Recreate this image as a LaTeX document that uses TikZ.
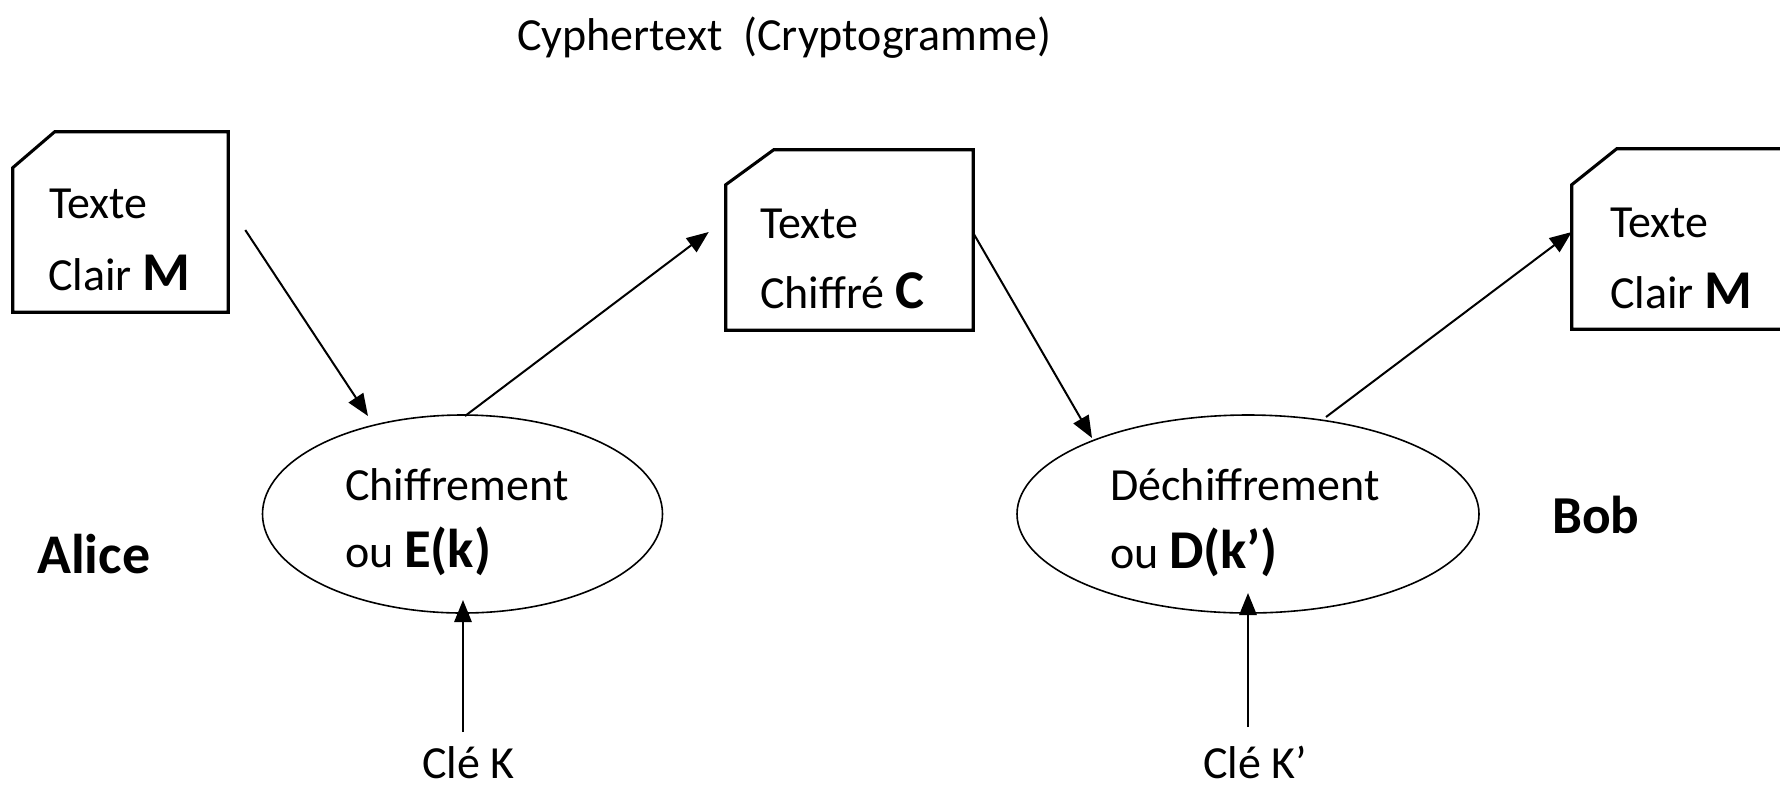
\documentclass[tikz,border=0pt]{standalone}
\usepackage{fontspec}
\setmainfont{Carlito}
\usetikzlibrary{shapes.geometric,arrows.meta,calc}
\newcommand\BigB[1]{{\fontsize{41}{48}\selectfont\bfseries #1}}
\begin{document}
\begin{tikzpicture}[x=0.75pt,y=-0.75pt,
  txt/.style={anchor=base west,inner sep=0pt,font=\fontsize{34.5}{40}\selectfont},
  who/.style={anchor=base west,inner sep=0pt,font=\fontsize{42}{48}\selectfont\bfseries},
  boxnode/.style={rectangle,draw=none,inner sep=0pt,minimum height=135pt},
  boxline/.style={line width=2.3pt,line join=miter},
  proc/.style={ellipse,draw,line width=1.2pt,inner sep=0pt,minimum height=148.5pt},
  arr/.style={line width=1.5pt,-{Triangle[length=16.5pt,width=13pt]}}]
\useasboundingbox (0,0) rectangle (1780,794);
\fill[white] (0,0) rectangle (1780,794);

% title
\node[txt] (title) at (517,50) {Cyphertext~~(Cryptogramme)};

% boxes
\node[boxnode,minimum width=161.25pt] (b1) at (120.5,222) {};
\draw[boxline] ([shift={(0,36)}]b1.north west) -- ([shift={(42,0)}]b1.north west) -- (b1.north east) -- (b1.south east) -- (b1.south west) -- cycle;
\node[boxnode,minimum width=185.25pt] (b2) at (849.5,240) {};
\draw[boxline] ([shift={(0,35)}]b2.north west) -- ([shift={(48,0)}]b2.north west) -- (b2.north east) -- (b2.south east) -- (b2.south west) -- cycle;
\node[boxnode,minimum width=163.5pt] (b3) at (1681,239) {};
\draw[boxline] ([shift={(0,36)}]b3.north west) -- ([shift={(45,0)}]b3.north west) -- (b3.north east) -- (b3.south east) -- (b3.south west) -- cycle;

\node[txt] (b1a) at (49,218) {Texte};
\node[txt] (b1b) at (48,290) {Clair \BigB{M}};
\node[txt] (b2a) at (760,238) {Texte};
\node[txt] (b2b) at (760,308) {Chiffré \BigB{C}};
\node[txt] (b3a) at (1610,237) {Texte};
\node[txt] (b3b) at (1610,308) {Clair \BigB{M}};

% ellipses
\node[proc,minimum width=300pt] (e1) at (462.5,514) {};
\node[proc,minimum width=346.5pt] (e2) at (1248,514) {};
\node[txt] (e1a) at (345,500) {Chiffrement};
\node[txt] (e1b) at (345,567) {ou \BigB{E(k)}};
\node[txt] (e2a) at (1110,500) {Déchiffrement};
\node[txt] (e2b) at (1110,568) {ou \BigB{D(k’)}};

% persons
\node[who] (alice) at (37,573) {Alice};
\node[who,font=\fontsize{40}{46}\selectfont\bfseries] (bob) at (1552,533) {Bob};

% keys
\node[txt] (k1) at (422,778) {Clé K};
\node[txt] (k2) at (1203,778) {Clé K’};
\coordinate (k1top) at (463,732);
\coordinate (k2top) at (1248,727);

% arrows
\draw[arr] ([shift={(17,8)}]b1.east) -- ([shift={(-94.5,-98)}]e1.center);
\draw[arr] ([shift={(2.5,-98)}]e1.center) -- ([shift={(-17,-8)}]b2.west);
\draw[arr] ([shift={(0,-7)}]b2.east) -- ([shift={(-156,-76)}]e2.center);
\draw[arr] ([shift={(78,-97)}]e2.center) -- ([shift={(0,-7)}]b3.west);
\draw[arr] (k1top) -- ([shift={(0.5,86)}]e1.center);
\draw[arr] (k2top) -- ([shift={(0,79)}]e2.center);
\end{tikzpicture}
\end{document}
